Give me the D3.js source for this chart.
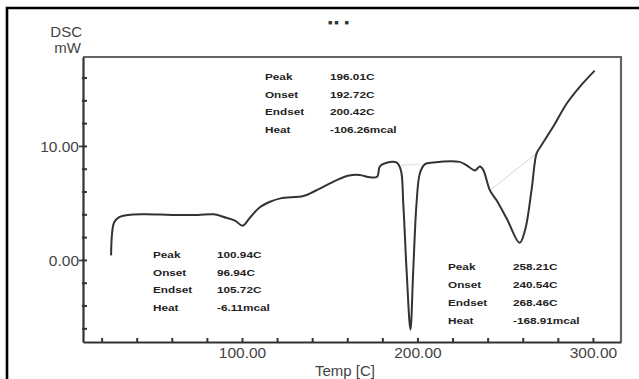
<!DOCTYPE html>
<html>
<head>
<meta charset="utf-8">
<script src="https://cdn.jsdelivr.net/npm/d3@7"></script>
<style>
  html, body { margin: 0; padding: 0; background: #fff; }
  svg { display: block; font-family: "Liberation Sans", Arial, sans-serif; }
</style>
</head>
<body>
<svg id="chart" width="639" height="379"></svg>
<script>
// DSC thermogram: temperature (C) vs heat flow (mW)
const temps = [25.4, 26.0, 27.2, 30, 35, 45, 60, 75, 84, 91, 96, 100.4, 104.5, 110, 116, 122,
  135, 141, 154, 161, 167, 173, 177, 178.6, 182, 188, 190.5, 191.9, 193.8, 196.0, 197.6,
  199.5, 201.4, 204.3, 209, 224, 228, 232.8, 235.6, 237.5, 241.3, 245, 250.8, 258.2,
  261.3, 265, 267.9, 270, 277.4, 285, 292.6, 301];
const dsc = [0.4, 2.4, 3.3, 3.75, 3.95, 4.0, 3.95, 3.95, 4.0, 3.7, 3.45, 3.0, 3.7, 4.6, 5.1, 5.4,
  5.6, 6.0, 7.0, 7.4, 7.45, 7.25, 7.3, 8.2, 8.5, 8.55, 7.9, 5.0, -0.9, -6.1, -0.9,
  5.0, 7.6, 8.4, 8.55, 8.6, 8.3, 7.85, 8.2, 7.9, 6.1, 5.25, 3.65, 1.5,
  2.6, 6.1, 9.35, 9.9, 11.7, 13.7, 15.2, 16.6];

// integration baselines under the two larger peaks
const baselineTemps = [[190.6, 201.4], [241.3, 267.9]];
const baselineDsc = [[8.3, 8.4], [6.1, 9.35]];

const xTicks = d3.range(20, 301, 20);
const xTickLabels = [100, 200, 300];
const yTicks = d3.range(-6, 17, 2);
const yTickLabels = [0, 10];

const peakNames = ["Peak", "Onset", "Endset", "Heat"];
const peak1 = ["100.94C", "96.94C", "105.72C", "-6.11mcal"];
const peak2 = ["196.01C", "192.72C", "200.42C", "-106.26mcal"];
const peak3 = ["258.21C", "240.54C", "268.46C", "-168.91mcal"];

const svg = d3.select("#chart");
const plotL = 83, plotR = 621, plotT = 57, plotB = 342;

const x = d3.scaleLinear().domain([9.4, 316]).range([plotL, plotR]);
const y = d3.scaleLinear().domain([-7.2, 17.8]).range([plotB, plotT]);

// outer frame (open on the right and bottom)
svg.append("path")
  .attr("d", `M7,381 L7,8 L641,8`)
  .attr("fill", "none").attr("stroke", "#000").attr("stroke-width", 2.6);

// plot box: top and right edges
svg.append("path")
  .attr("d", `M${plotL},${plotT} L${plotR},${plotT} L${plotR},${plotB}`)
  .attr("fill", "none").attr("stroke", "#666").attr("stroke-width", 2.2);

// axes
const xAxis = d3.axisBottom(x).tickValues(xTicks).tickSize(0).tickFormat("");
const gx = svg.append("g").attr("transform", `translate(0,${plotB})`).call(xAxis);
gx.select(".domain").attr("stroke", "#333").attr("stroke-width", 2.2);
gx.selectAll(".tick line").attr("y1", 1).attr("y2", -4).attr("stroke", "#333").attr("stroke-width", 2);
gx.selectAll(".tick").filter(d => xTickLabels.includes(d)).append("text")
  .attr("y", 16).attr("fill", "#444").attr("text-anchor", "middle")
  .style("font-size", "15.5px")
  .text(d => d.toFixed(2));

const yAxis = d3.axisLeft(y).tickValues(yTicks).tickSize(0).tickFormat("");
const gy = svg.append("g").attr("transform", `translate(${plotL},0)`).call(yAxis);
gy.select(".domain").attr("stroke", "#333").attr("stroke-width", 2.2);
gy.selectAll(".tick line").attr("x1", -1).attr("x2", 4).attr("stroke", "#333").attr("stroke-width", 2);
gy.selectAll(".tick").filter(d => yTickLabels.includes(d)).append("line")
  .attr("x1", -4).attr("x2", 0).attr("stroke", "#333").attr("stroke-width", 1.6);
gy.selectAll(".tick").filter(d => yTickLabels.includes(d)).append("text")
  .attr("x", -4).attr("dy", "0.35em").attr("fill", "#444").attr("text-anchor", "end")
  .style("font-size", "15.5px")
  .text(d => d.toFixed(2));

// axis titles
svg.append("text").attr("x", 82).attr("y", 37).attr("text-anchor", "end")
  .attr("fill", "#444").style("font-size", "15px").text("DSC");
svg.append("text").attr("x", 81).attr("y", 53).attr("text-anchor", "end")
  .attr("fill", "#444").style("font-size", "15px").text("mW");
svg.append("text").attr("x", 315).attr("y", 376)
  .attr("fill", "#444").style("font-size", "15px").text("Temp  [C]");

// small heading marks
svg.append("text").attr("x", 328).attr("y", 25)
  .attr("fill", "#333").style("font-size", "7px").style("font-weight", "bold")
  .style("letter-spacing", "2px").text("■■ ■");

// baselines
baselineTemps.forEach((t, i) => {
  svg.append("line")
    .attr("x1", x(t[0])).attr("y1", y(baselineDsc[i][0]))
    .attr("x2", x(t[1])).attr("y2", y(baselineDsc[i][1]))
    .attr("stroke", "#e2e2e2").attr("stroke-width", 1.2);
});

// thermogram curve
const pts = temps.map((t, i) => [t, dsc[i]]);
const line = d3.line().x(d => x(d[0])).y(d => y(d[1])).curve(d3.curveCatmullRom.alpha(0.5));
svg.append("path").datum(pts)
  .attr("d", line)
  .attr("fill", "none").attr("stroke", "#333").attr("stroke-width", 2)
  .attr("stroke-linejoin", "round");

// peak annotation tables
function table(lx, vx, y0, dy, values) {
  const g = svg.append("g").style("font-size", "9.8px").style("font-weight", "bold").attr("fill", "#222");
  peakNames.forEach((n, i) => {
    g.append("text").attr("x", lx).attr("y", y0 + i * dy).attr("dy", "0.35em")
      .attr("transform", `translate(${lx},0) scale(1.2,1) translate(${-lx},0)`).text(n);
    g.append("text").attr("x", vx).attr("y", y0 + i * dy).attr("dy", "0.35em")
      .attr("transform", `translate(${vx},0) scale(1.2,1) translate(${-vx},0)`).text(values[i]);
  });
}
table(153, 217, 255, 17.4, peak1);
table(265, 330, 77, 17.4, peak2);
table(448, 513, 267, 18, peak3);
</script>
</body>
</html>
